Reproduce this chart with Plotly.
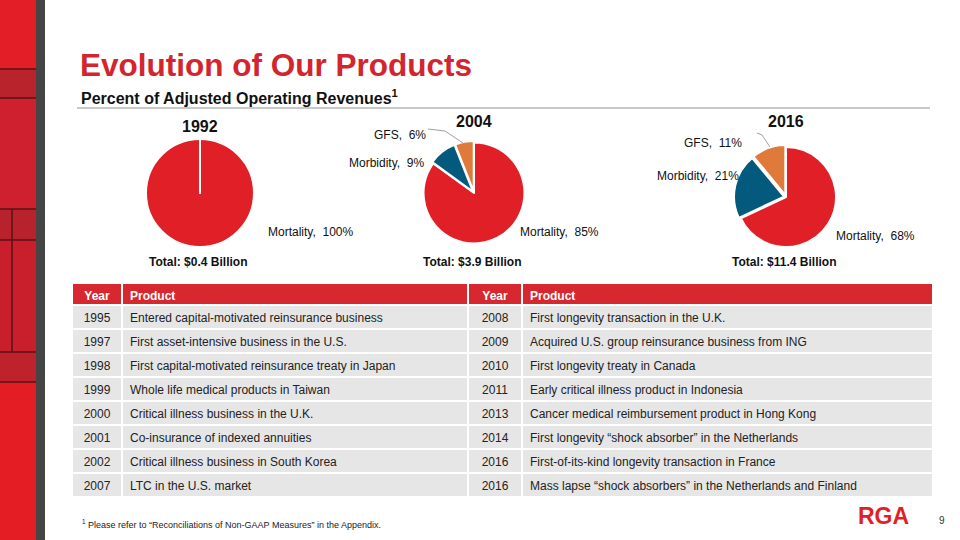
import plotly.graph_objects as go

# ---------------- data ----------------
categories = ["Mortality", "Morbidity", "GFS"]
pie_years = ["1992", "2004", "2016"]
shares_1992 = [100, 0, 0]
shares_2004 = [85, 9, 6]
shares_2016 = [68, 21, 11]
totals_bn = [0.4, 3.9, 11.4]

left_years = ["1995", "1997", "1998", "1999", "2000", "2001", "2002", "2007"]
left_products = [
    "Entered capital-motivated reinsurance business",
    "First asset-intensive business in the U.S.",
    "First capital-motivated reinsurance treaty in Japan",
    "Whole life medical products in Taiwan",
    "Critical illness business in the U.K.",
    "Co-insurance of indexed annuities",
    "Critical illness business in South Korea",
    "LTC in the U.S. market",
]
right_years = ["2008", "2009", "2010", "2011", "2013", "2014", "2016", "2016"]
right_products = [
    "First longevity transaction in the U.K.",
    "Acquired U.S. group reinsurance business from ING",
    "First longevity treaty in Canada",
    "Early critical illness product in Indonesia",
    "Cancer medical reimbursement product in Hong Kong",
    "First longevity \u201cshock absorber\u201d in the Netherlands",
    "First-of-its-kind longevity transaction in France",
    "Mass lapse \u201cshock absorbers\u201d in the Netherlands and Finland",
]
table_headers = ["Year", "Product", "Year", "Product"]

# ---------------- style ----------------
W, H = 960, 540
FONT = "Liberation Sans, Arial, sans-serif"
RED = "#E01F26"
TITLE_RED = "#D3252E"
BLUE = "#035A7D"
ORANGE = "#E07A3A"
slice_colors = [RED, BLUE, ORANGE]


def X(px):
    return px / W


def Y(py):
    return 1 - py / H


fig = go.Figure()

# pies: (center x, center y, radius) in pixels
pie_geo = [(200, 193, 54), (474, 193, 52), (786, 197, 52)]
pie_shares = [shares_1992, shares_2004, shares_2016]
pulls = [[0, 0, 0], [0, 0.03, 0.03], [0, 0.04, 0.04]]
for (cx, cy, r), vals, pull in zip(pie_geo, pie_shares, pulls):
    fig.add_trace(go.Pie(
        labels=categories, values=vals, sort=False, direction="clockwise",
        rotation=0, textinfo="none", hoverinfo="label+percent",
        marker=dict(colors=slice_colors, line=dict(color="white", width=2)),
        pull=pull, showlegend=False,
        domain=dict(x=[X(cx - r), X(cx + r)], y=[Y(cy + r), Y(cy - r)]),
    ))

# table
fig.add_trace(go.Table(
    domain=dict(x=[X(72), X(933)], y=[Y(500), Y(283)]),
    columnwidth=[50, 346, 54, 411],
    header=dict(
        values=table_headers,
        fill_color="#D7282F", line=dict(color="white", width=2),
        align=["center", "left", "center", "left"],
        font=dict(family=FONT, size=12, color="white", weight="bold"), height=22,
    ),
    cells=dict(
        values=[left_years, left_products, right_years, right_products],
        fill_color="#E6E6E6", line=dict(color="white", width=2),
        align=["center", "left", "center", "left"],
        font=dict(family=FONT, size=12, color="#222222"), height=24,
    ),
))

ann = []
# slide title & subtitle
ann.append(dict(text="<b>Evolution of Our Products</b>", x=X(78), y=Y(65),
                xanchor="left", yanchor="middle",
                font=dict(family=FONT, size=31.5, color=TITLE_RED)))
ann.append(dict(text="<b>Percent of Adjusted Operating Revenues<sup>1</sup></b>",
                x=X(79), y=Y(97), xanchor="left", yanchor="middle",
                font=dict(family=FONT, size=16, color="#111111")))

# pie titles and totals
for (cx, cy, r), yr, tot, ty in zip(pie_geo, pie_years, totals_bn, [127, 122, 122]):
    ann.append(dict(text="<b>%s</b>" % yr, x=X(cx), y=Y(ty), xanchor="center",
                    yanchor="middle", font=dict(family=FONT, size=16, color="#111111")))
    ann.append(dict(text="<b>Total: $%s Billion</b>" % tot, x=X(cx - 2), y=Y(262),
                    xanchor="center", yanchor="middle",
                    font=dict(family=FONT, size=12, color="#111111")))

# slice labels (pixel positions of label centers)
label_pos = {
    (0, 0): (310, 232),
    (1, 0): (559, 232), (1, 1): (386, 163), (1, 2): (400, 135),
    (2, 0): (875, 236), (2, 1): (698, 176), (2, 2): (713, 143),
}
for (pi, ci), (lx, ly) in label_pos.items():
    val = pie_shares[pi][ci]
    ann.append(dict(text="%s,  %d%%" % (categories[ci], val), x=X(lx), y=Y(ly),
                    xanchor="center", yanchor="middle",
                    font=dict(family=FONT, size=12, color="#111111")))

# footer
ann.append(dict(text="<sup>1</sup> Please refer to \u201cReconciliations of Non-GAAP Measures\u201d in the Appendix.",
                x=X(80), y=Y(524), xanchor="left", yanchor="middle",
                font=dict(family=FONT, size=9, color="#222222")))
ann.append(dict(text="<b>RGA</b>", x=X(883), y=Y(516), xanchor="center",
                yanchor="middle", font=dict(family=FONT, size=23, color="#E01F26")))
ann.append(dict(text="9", x=X(942), y=Y(520), xanchor="center", yanchor="middle",
                font=dict(family=FONT, size=10, color="#333333")))

for a in ann:
    a.update(xref="paper", yref="paper", showarrow=False)

shapes = []
# left decorative strip
strip_blocks = [(0, 69, "#E31E26"), (69, 98, "#B9232C"), (98, 209, "#CF2030"),
                (209, 240, "#B8222C"), (240, 352, "#C91F2D"), (352, 382, "#BE222C"),
                (382, 540, "#E41D25")]
for y0, y1, c in strip_blocks:
    shapes.append(dict(type="rect", x0=0, x1=X(36), y0=Y(y1), y1=Y(y0),
                       fillcolor=c, line=dict(width=0)))
shapes.append(dict(type="rect", x0=X(36), x1=X(45), y0=0, y1=1,
                   fillcolor="#454545", line=dict(width=0)))
for yy in [69, 98, 209, 240, 352, 382]:
    shapes.append(dict(type="line", x0=0, x1=X(36), y0=Y(yy), y1=Y(yy),
                       line=dict(color="#5A1216", width=1.5)))
shapes.append(dict(type="line", x0=X(12), x1=X(12), y0=Y(209), y1=Y(352),
                   line=dict(color="#5A1216", width=1.5)))
# subtitle rule
shapes.append(dict(type="line", x0=X(77), x1=X(930), y0=Y(108), y1=Y(108),
                   line=dict(color="#C8C8C8", width=2)))
# leader lines for GFS labels
for pts in [[(428, 129), (445, 131), (463, 143)], [(757, 133), (762, 135), (770, 147)]]:
    path = "M %f %f" % (X(pts[0][0]), Y(pts[0][1]))
    for px_, py_ in pts[1:]:
        path += " L %f %f" % (X(px_), Y(py_))
    shapes.append(dict(type="path", path=path, line=dict(color="#A0A0A0", width=1)))

for s in shapes:
    s.update(xref="paper", yref="paper", layer="above" if s["type"] != "rect" else "below")

fig.update_layout(
    width=W, height=H, margin=dict(l=0, r=0, t=0, b=0),
    paper_bgcolor="white", plot_bgcolor="white",
    annotations=ann, shapes=shapes, showlegend=False,
    font=dict(family=FONT),
)

fig.write_html("out.html", config={"displayModeBar": False},
               post_script="document.body.style.margin='0';document.body.style.overflow='hidden';")
